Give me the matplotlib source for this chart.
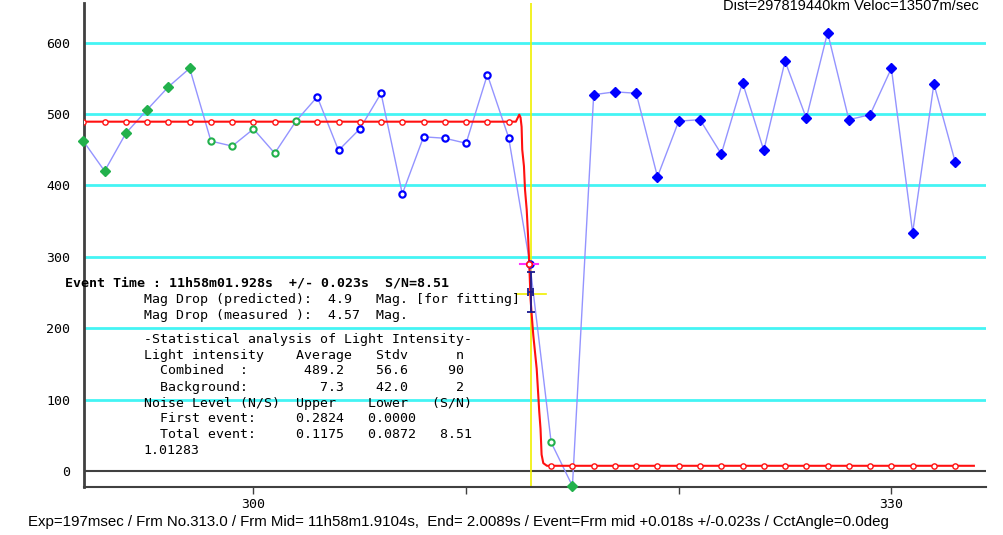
import numpy as np
import matplotlib
matplotlib.use('Agg')
import matplotlib.pyplot as plt

# =============================================================================
# Data
# =============================================================================

# Frame numbers and measured light intensity
frames = np.arange(292, 334)
intensity = [462, 420, 473, 506, 538, 564, 462, 455, 479, 445,
             490, 524, 449, 479, 529, 388, 468, 466, 459, 555,
             467, 290, 40, -21, 527, 531, 529, 412, 490, 492,
             444, 544, 449, 574, 494, 614, 492, 499, 564, 334,
             542, 433]

# Point groups (frames used for fitting / background etc.)
green_filled = [292, 293, 294, 295, 296, 297, 315]
green_open = [298, 299, 300, 301, 302, 314]
blue_open = [303, 304, 305, 306, 307, 308, 309, 310, 311, 312, 313]
blue_filled = list(range(316, 334))

# Fitted model curve
model_t = [292.0, 312.34, 312.50, 312.56, 312.61, 312.64, 312.72, 312.77,
           312.85, 312.92, 312.97, 313.03, 313.10, 313.16, 313.32, 313.44,
           313.50, 313.55, 313.63, 313.80, 333.88]
model_v = [489.2, 489.2, 499, 495, 482, 450, 427, 394,
           366, 325, 290, 241, 213, 190, 143, 83,
           59, 23, 11, 7.3, 7.3]
model_marks = [489.2] * 21 + [290] + [7.3] * 20

# Event values
event_frame = 313.03
event_err = 0.117
half_level = 248.25
half_span = [312.4, 313.75]
err_y = 251
err_lo, err_hi = 223, 278
event_mark = 290
event_span = [312.53, 313.38]

# Axis ticks
yticks = [0, 100, 200, 300, 400, 500, 600]
xticks = [300, 310, 320, 330]
xticklabels = ['300', '', '', '330']

# Texts
event_line = 'Event Time : 11h58m01.928s  +/- 0.023s  S/N=8.51'
stats_lines = [
    'Mag Drop (predicted):  4.9   Mag. [for fitting]',
    'Mag Drop (measured ):  4.57  Mag.',
    '-Statistical analysis of Light Intensity-',
    'Light intensity    Average   Stdv      n',
    '  Combined  :       489.2    56.6     90',
    '  Background:         7.3    42.0      2',
    'Noise Level (N/S)  Upper    Lower   (S/N)',
    '  First event:     0.2824   0.0000',
    '  Total event:     0.1175   0.0872   8.51',
    '1.01283',
]
top_text = 'Dist=297819440km Veloc=13507m/sec'
bottom_text = ('Exp=197msec / Frm No.313.0 / Frm Mid= 11h58m1.9104s,  '
               'End= 2.0089s / Event=Frm mid +0.018s +/-0.023s / '
               'CctAngle=0.0deg')

# =============================================================================
# Figure
# =============================================================================

W, H = 1004, 535
fig = plt.figure(figsize=(W / 100, H / 100), dpi=100)
ax = fig.add_axes([84 / W, (H - 487) / H, (986 - 84) / W, (487 - 3) / H])
ax.set_xlim(292.03, 334.45)
ax.set_ylim(-22.4, 655.4)

mono = 'DejaVu Sans Mono'
sans = 'Liberation Sans'

# Grid lines and zero line
for y in yticks[1:]:
    ax.axhline(y, color='#44f4f4', lw=2, zorder=1)
ax.axhline(0, color='#404040', lw=1.5, zorder=1)

# Yellow event lines
ax.axvline(event_frame, color='#f0f000', lw=1.2, zorder=2)
ax.plot(half_span, [half_level, half_level], color='#f0f000', lw=1.2,
        zorder=2)

# Measured light curve
ax.plot(frames, intensity, color='#9494ff', lw=1, zorder=3)

# Model fit
ax.plot(model_t, model_v, color='#ff1010', lw=1.5, zorder=4)
ax.plot(frames, model_marks, 'o', ms=3.8, mfc='white', mec='#ff1010',
        mew=1, zorder=5)

# Data markers per group
val = dict(zip(frames, intensity))
groups = [
    (green_filled, dict(marker='D', ms=5, mfc='#22b14c', mec='#22b14c')),
    (green_open, dict(marker='o', ms=4.5, mfc='white', mec='#22b14c',
                      mew=1.5)),
    (blue_open, dict(marker='o', ms=4.5, mfc='white', mec='#0000ff',
                     mew=1.6)),
    (blue_filled, dict(marker='D', ms=5, mfc='#0000ff', mec='#0000ff')),
]
for fr, style in groups:
    ax.plot(fr, [val[f] for f in fr], ls='none', zorder=6, clip_on=False,
            **style)

# Event marker and error bars
ax.plot(event_span, [event_mark, event_mark], color='#ff30ff', lw=1.5,
        zorder=7)
ax.plot(model_t[10], event_mark, 'o', ms=4, mfc='white', mec='#ff1010',
        mew=1.2, zorder=8)
ax.errorbar(event_frame, err_y, yerr=[[err_y - err_lo], [err_hi - err_y]],
            xerr=event_err, color='#1a1a90', lw=1.3, capsize=3, capthick=1.3,
            zorder=8)

# Axes styling
for s in ['top', 'right']:
    ax.spines[s].set_visible(False)
ax.spines['left'].set_color('#404040')
ax.spines['left'].set_linewidth(2)
ax.spines['bottom'].set_color('#404040')
ax.spines['bottom'].set_linewidth(1.5)

ax.set_yticks(yticks)
ax.set_yticklabels([str(v) for v in yticks], family=mono, fontsize=9.5)
ax.tick_params(axis='y', length=0, pad=10)
ax.set_xticks(xticks)
ax.set_xticklabels(xticklabels, family=mono, fontsize=9.5)
ax.tick_params(axis='x', length=5, width=1, color='#404040', pad=3)

# Text blocks
fig.text(65 / W, 1 - 283.5 / H, event_line, family=mono, fontsize=9.5,
         weight='bold', va='center', ha='left', zorder=10)
line_y = [299.3, 315, 339.3, 355.7, 371, 387, 403.3, 419, 434.7, 450.7]
for txt, y in zip(stats_lines, line_y):
    fig.text(143.6 / W, 1 - y / H, txt, family=mono, fontsize=9.5,
             va='center', ha='left', zorder=10)

fig.text(979 / W, 1 - 9.5 / H, top_text, family=sans, fontsize=10.5,
         va='baseline', ha='right')
fig.text(28 / W, 1 - 522 / H, bottom_text, family=sans, fontsize=10.8,
         va='center', ha='left')

fig.savefig('out.png', dpi=100)
